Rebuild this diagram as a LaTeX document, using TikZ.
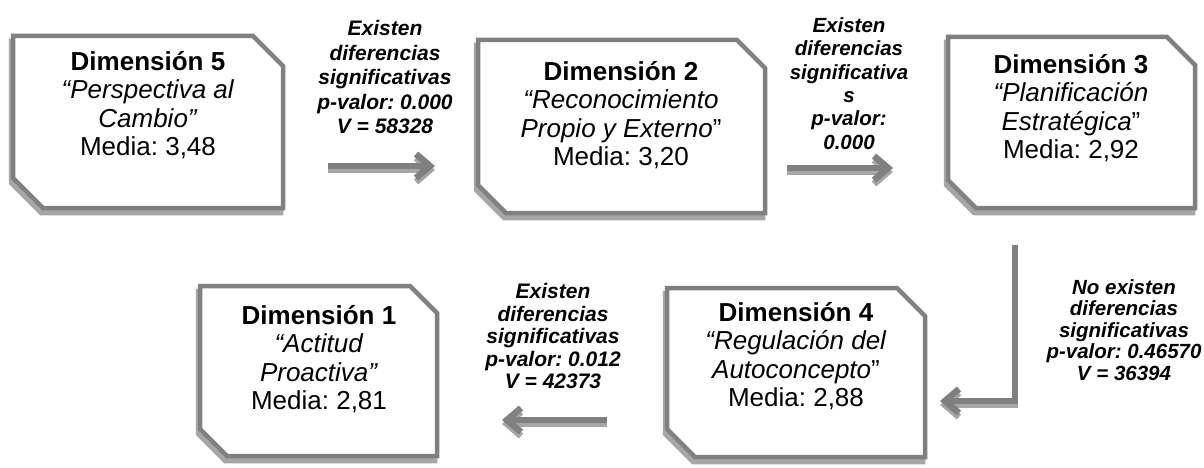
\documentclass[tikz,border=0pt]{standalone}
\usepackage{fontspec}
\setmainfont{Liberation Sans}
\usetikzlibrary{arrows.meta}
\definecolor{bord}{HTML}{808080}
\definecolor{shad}{HTML}{A6A6A6}
\frenchspacing
\newcommand\octbox[5]{%
  \draw[boxshadow,xshift=-2pt,yshift=-5pt] (#1,#2) -- ({#3-#5},#2) -- (#3,{#2+#5}) -- (#3,#4) -- ({#1+#5},#4) -- (#1,{#4-#5}) -- cycle;
  \draw[boxmain] (#1,#2) -- ({#3-#5},#2) -- (#3,{#2+#5}) -- (#3,#4) -- ({#1+#5},#4) -- (#1,{#4-#5}) -- cycle;}
\tikzset{
  boxmain/.style={draw=bord,line width=4.5pt,fill=white,line join=miter},
  boxshadow/.style={draw=shad,line width=4.5pt,fill=shad,line join=miter},
  boxtext/.style={font=\fontsize{26}{28.5}\selectfont,align=center,inner sep=0pt},
  lab/.style={font=\fontsize{21}{24.5}\selectfont\bfseries\itshape,align=center,inner sep=0pt},
  arrmain/.style={draw=bord,line width=6.5pt,-{Straight Barb[length=14pt,width=24pt]}},
  arrshadow/.style={draw=shad,line width=6.5pt,-{Straight Barb[length=14pt,width=24pt]}},
}
\begin{document}
\frenchspacing
\begin{tikzpicture}[x=1pt,y=-1pt]
\useasboundingbox[fill=white] (0,0) rectangle (1204,468);
% boxes
\octbox{13}{36}{283}{208}{30}
\octbox{478}{40}{765}{213}{28}
\octbox{948}{37}{1195}{208}{28}
\octbox{200}{286}{437}{456}{27}
\octbox{667}{288}{925}{457}{28}
% box texts
\node[boxtext] (d5) at (148,105) {\textbf{Dimensión 5}\\\textit{“Perspectiva al}\\\textit{Cambio”}\\Media: 3,48};
\node[boxtext] (d2) at (621,115) {\textbf{Dimensión 2}\\\textit{“Reconocimiento}\\\textit{Propio y Externo}”\\Media: 3,20};
\node[boxtext] (d3) at (1071,108) {\textbf{Dimensión 3}\\\textit{“Planificación}\\\textit{Estratégica}”\\Media: 2,92};
\node[boxtext] (d1) at (319,359) {\textbf{Dimensión 1}\\\textit{“Actitud}\\\textit{Proactiva”}\\Media: 2,81};
\node[boxtext] (d4) at (796,356) {\textbf{Dimensión 4}\\\textit{“Regulación del}\\\textit{Autoconcepto}”\\Media: 2,88};
% labels
\node[lab] (l1) at (385,77) {Existen\\diferencias\\significativas\\p-valor: 0.000\\V = 58328};
\node[lab,font=\fontsize{20.5}{23.3}\selectfont\bfseries\itshape] (l2) at (849,83.5) {Existen\\diferencias\\significativa\\s\\p-valor:\\0.000};
\node[lab,font=\fontsize{20.5}{21.5}\selectfont\bfseries\itshape] (l3) at (1124,330) {No existen\\diferencias\\significativas\\p-valor: 0.46570\\V = 36394};
\node[lab,font=\fontsize{21}{22.5}\selectfont\bfseries\itshape] (l4) at (553,336) {Existen\\diferencias\\significativas\\p-valor: 0.012\\V = 42373};
% arrows
\coordinate (a1s) at (328,166); \coordinate (a1e) at (435,166);
\coordinate (a2s) at (787,168); \coordinate (a2e) at (893,168);
\coordinate (a3s) at (1015,245); \coordinate (a3c) at (1015,401); \coordinate (a3e) at (940,401);
\coordinate (a4s) at (607,420); \coordinate (a4e) at (502,420);
\draw[arrshadow] ([yshift=-4pt]a1s) -- ([yshift=-4pt]a1e);
\draw[arrmain] (a1s) -- (a1e);
\draw[arrshadow] ([yshift=-4pt]a2s) -- ([yshift=-4pt]a2e);
\draw[arrmain] (a2s) -- (a2e);
\draw[arrshadow] ([yshift=-4pt]a3s) -- ([yshift=-4pt]a3c) -- ([yshift=-4pt]a3e);
\draw[arrmain] (a3s) -- (a3c) -- (a3e);
\draw[arrshadow] ([yshift=-4pt]a4s) -- ([yshift=-4pt]a4e);
\draw[arrmain] (a4s) -- (a4e);
\end{tikzpicture}
\end{document}
